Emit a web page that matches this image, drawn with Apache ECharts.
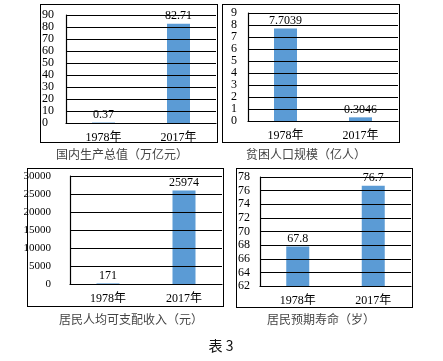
<!DOCTYPE html>
<html><head><meta charset="utf-8">
<script src="https://cdn.jsdelivr.net/npm/echarts@6/dist/echarts.min.js"></script>
<style>
html,body{margin:0;padding:0;background:#fff}
#wrap{position:relative;width:443px;height:361px}
#c{width:443px;height:361px}
.box{position:absolute;border:1px solid #000;box-sizing:border-box;pointer-events:none}
.vl{position:absolute;width:1px;background:#000;pointer-events:none}
.ttl{position:absolute;transform:translate(-50%,-50%);white-space:nowrap;font-family:"Noto Sans CJK SC",sans-serif;font-size:12px;line-height:16px;color:#444;pointer-events:none}
.cap{font-size:14px;line-height:18px;color:#111}
</style>
</head><body><div id="wrap"><div id="c"></div></div>
<script>
const categories = ['1978年', '2017年'];
const gdpValues = [0.37, 82.71];
const povertyValues = [7.7039, 0.3046];
const incomeValues = [171, 25974];
const lifeValues = [67.8, 76.7];
const gdpTicks = [0, 10, 20, 30, 40, 50, 60, 70, 80, 90];
const povertyTicks = [0, 1, 2, 3, 4, 5, 6, 7, 8, 9];
const incomeTicks = [0, 5000, 10000, 15000, 20000, 25000, 30000];
const lifeTicks = [62, 64, 66, 68, 70, 72, 74, 76, 78];
const titles = ['国内生产总值（万亿元）', '贫困人口规模（亿人）', '居民人均可支配收入（元）', '居民预期寿命（岁）'];
const caption = '表 3';

const FONT = '"Liberation Serif","Noto Sans CJK SC",serif';
const grids = [
  {left: 66, top: 15, width: 150, height: 108},
  {left: 248, top: 13, width: 150, height: 108},
  {left: 70, top: 176, width: 152, height: 108},
  {left: 260, top: 177, width: 151, height: 109}
];
const tickSets = [gdpTicks, povertyTicks, incomeTicks, lifeTicks];
const yCfg = [
  {align: 'left', margin: 24, size: 12},
  {align: 'left', margin: 17, size: 12},
  {align: 'right', margin: 19, size: 11},
  {align: 'left', margin: 22, size: 12}
];
const dataSets = [gdpValues, povertyValues, incomeValues, lifeValues];
const boxes = [
  [40, 4, 178, 139],
  [222, 4, 178, 139],
  [27, 168, 197, 139],
  [236, 168, 177, 140]
];
const titlePos = [[122, 154], [306, 154], [131, 319], [321, 319]];
const captionPos = [221, 345];

const wrap = document.getElementById('wrap');
boxes.forEach(b => {
  const d = document.createElement('div');
  d.className = 'box';
  d.style.left = b[0] + 'px'; d.style.top = b[1] + 'px';
  d.style.width = b[2] + 'px'; d.style.height = b[3] + 'px';
  wrap.appendChild(d);
});
grids.forEach(g => {
  const d = document.createElement('div');
  d.className = 'vl';
  d.style.left = g.left + 'px'; d.style.top = g.top + 'px';
  d.style.height = g.height + 'px';
  wrap.appendChild(d);
});
function addText(t, p, extra) {
  const d = document.createElement('div');
  d.className = 'ttl' + (extra ? ' ' + extra : '');
  d.textContent = t;
  d.style.left = p[0] + 'px'; d.style.top = p[1] + 'px';
  wrap.appendChild(d);
}
titles.forEach((t, i) => addText(t, titlePos[i]));
addText(caption, captionPos, 'cap');

const chart = echarts.init(document.getElementById('c'), null, {renderer: 'canvas'});
const barSeries = dataSets.map((d, i) => ({
  type: 'bar', xAxisIndex: i, yAxisIndex: i, data: d,
  barWidth: 23, z: 3,
  itemStyle: {color: '#5B9BD5'},
  label: {show: true, position: 'top', distance: 2, color: '#000', fontFamily: FONT, fontSize: 12}
}));
const gridLineSeries = tickSets.map((ticks, i) => ({
  type: 'line', xAxisIndex: i, yAxisIndex: i, data: [], z: 1, silent: true,
  markLine: {
    silent: true, symbol: 'none', animation: false,
    label: {show: false},
    emphasis: {disabled: true},
    lineStyle: {color: '#000', width: 1.2, type: 'solid'},
    data: ticks.map(v => ({yAxis: v}))
  }
}));

chart.setOption({
  animation: false,
  grid: grids,
  xAxis: grids.map((g, i) => ({
    type: 'category', gridIndex: i, data: categories,
    axisLine: {show: true, lineStyle: {color: '#000', width: 1.2}},
    axisTick: {show: false},
    axisLabel: {color: '#000', fontFamily: FONT, fontSize: 12, margin: 9}
  })),
  yAxis: yCfg.map((c, i) => {
    const t = tickSets[i];
    return {
      type: 'value', gridIndex: i, min: t[0], max: t[t.length - 1], interval: t[1] - t[0],
      axisLine: {show: true, lineStyle: {color: '#000', width: 1.2}},
      axisTick: {show: false},
      splitLine: {show: true, lineStyle: {color: '#000', width: 1.2}},
      axisLabel: {color: '#000', fontFamily: FONT, fontSize: c.size, align: c.align, margin: c.margin,
        formatter: v => String(v)}
    };
  }),
  series: gridLineSeries.concat(barSeries)
});
</script></body></html>
